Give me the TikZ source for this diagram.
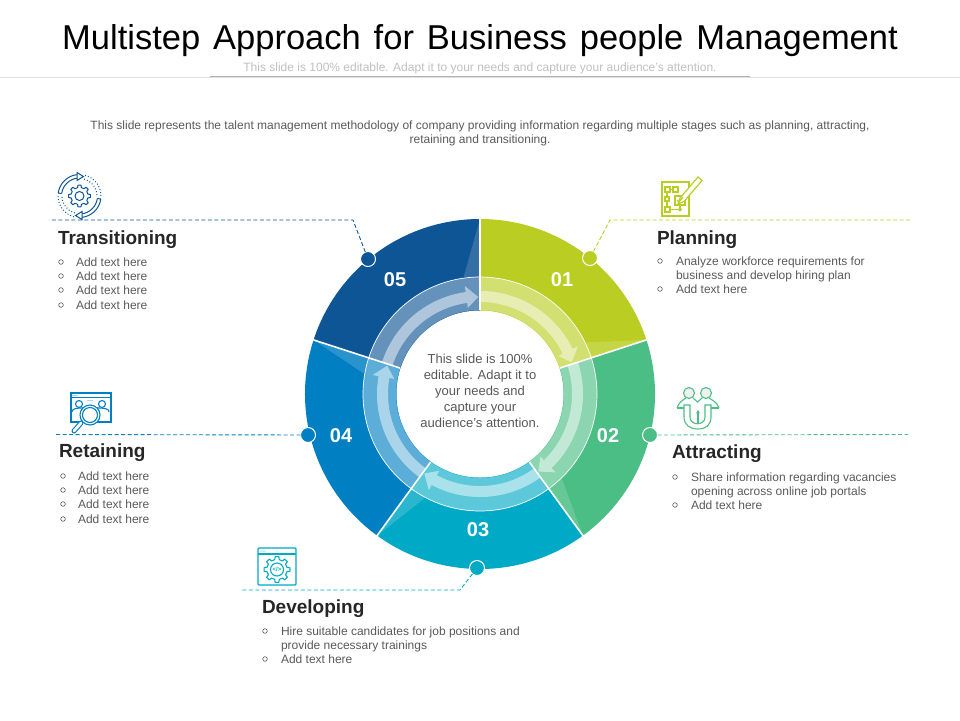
\documentclass[tikz,border=0pt]{standalone}
\usepackage{fontspec}
\setmainfont{Liberation Sans}
\newfontfamily\titlefont[WordSpace=1.35]{Liberation Sans}
\usetikzlibrary{arrows.meta}

\definecolor{segone}{HTML}{B9CD22}
\definecolor{segtwo}{HTML}{4ABE84}
\definecolor{segthree}{HTML}{00A9C5}
\definecolor{segfour}{HTML}{0080C3}
\definecolor{segfive}{HTML}{0E5596}
\definecolor{bodygray}{HTML}{595959}
\definecolor{headgray}{HTML}{262626}

\tikzset{
  every node/.style={inner sep=0pt, outer sep=0pt},
  heading/.style={anchor=base west, font=\fontsize{19}{22}\selectfont\bfseries, text=headgray},
  listline/.style={anchor=base west, font=\fontsize{12}{14}\selectfont, text=bodygray},
  bulletmark/.style={circle, draw=bodygray, line width=0.6pt, minimum size=4.6pt},
  stepnum/.style={font=\fontsize{20}{22}\selectfont\bfseries, text=white},
  stepdot/.style={circle, draw=white, line width=1pt, minimum size=15pt},
  leader/.style={dash pattern=on 4pt off 2.5pt, line width=0.9pt},
  gearpic/.pic={
    \draw [line join=round] (0:#1)
      \foreach \a in {0,45,...,315} {
        -- (\a+8:#1) -- (\a+13:#1*0.78) -- (\a+32:#1*0.78) -- (\a+37:#1) }
      -- cycle;
  }
}

\begin{document}
\begin{tikzpicture}[x=1pt, y=-1pt, line cap=butt]

\useasboundingbox (0,0) rectangle (960,720);

% title block
\node (title) [font=\fontsize{34.5}{36}\selectfont\titlefont, text=black, anchor=base] at (480,49)
  {Multistep Approach for Business people Management};
\node (subtitle) [font=\fontsize{12}{14}\selectfont, text=black!25, anchor=base] at (480,71)
  {This slide is 100\% editable. Adapt it to your needs and capture your audience's attention.};
\coordinate (rule-a) at (0,77);
\coordinate (rule-b) at (960,77);
\coordinate (rule-c) at (210,76);
\coordinate (rule-d) at (750,76);
\draw [black!13, line width=0.8pt] (rule-a) -- (rule-b);
\draw [black!30, line width=0.8pt] (rule-c) -- (rule-d);
\node (intro-1) [listline, anchor=base] at (480,129)
  {This slide represents the talent management methodology of company providing information regarding multiple stages such as planning, attracting,};
\node (intro-2) [listline, anchor=base] at (480,143)
  {retaining and transitioning.};

% wheel
\begin{scope}[shift={(480,394)}, y=1pt]
  \foreach \c [count=\i, evaluate=\i as \sa using 162-72*\i, evaluate=\i as \ea using 90-72*\i]
      in {segone,segtwo,segthree,segfour,segfive} {
    \fill [\c] (\sa:175) arc [start angle=\sa, end angle=\ea, radius=175] -- (\ea:0) -- (0,0) -- cycle;
    % light wedge on the trailing side
    \fill [white, opacity=0.16] (\ea:175) -- (\ea:117) -- (\ea+8:118) -- cycle;
    % inner ring
    \fill [white, opacity=0.36] (\sa:117) arc [start angle=\sa, end angle=\ea, radius=117]
      -- (\ea:84) arc [start angle=\ea, end angle=\sa, radius=84] -- cycle;
    % arrow in the ring
    \fill [white, opacity=0.48] (\sa:103) arc [start angle=\sa, end angle=\ea+8, radius=103]
      -- (\ea+8:109) -- (\ea+1:97) -- (\ea+8:87) -- (\ea+8:92)
      arc [start angle=\ea+8, end angle=\sa, radius=92] -- cycle;
  }
  \draw [white, line width=0.7pt] (0,0) circle [radius=117];
  \foreach \a in {90,18,-54,-126,162}
    \draw [white, line width=1.6pt] (\a:84) -- (\a:176);
  \fill [white] (0,0) circle [radius=83.5];
\end{scope}

\node (centre-text) [font=\fontsize{13}{16}\selectfont, text=bodygray, align=center] at (480,390.5)
  {This slide is 100\%\\editable. Adapt it to\\your needs and\\capture your\\audience's attention.};

\foreach \t/\x/\y [count=\i] in {01/562/280, 02/608/436, 03/478/530, 04/341/436, 05/395/280}
  \node (num-\i) [stepnum] at (\x,\y) {\t};

% connectors
\coordinate (bend-1) at (610,220);
\coordinate (end-1) at (912,220);
\coordinate (end-2) at (908,434.5);
\coordinate (bend-3) at (460,590);
\coordinate (end-3) at (240,590);
\coordinate (end-4) at (54,434.5);
\coordinate (bend-5) at (353,220);
\coordinate (end-5) at (49,220);

\foreach \c/\x/\y [count=\i] in {segone/590/258, segtwo/650/435, segthree/477/568, segfour/308/435, segfive/368/259}
  \node (dot-\i) [stepdot, fill=\c] at (\x,\y) {};

\draw [leader, segone] (dot-1) -- (bend-1) -- (end-1);
\draw [leader, segtwo] (dot-2) -- (end-2);
\draw [leader, segthree] (dot-3) -- (bend-3) -- (end-3);
\draw [leader, segfour] (dot-4) -- (end-4);
\draw [leader, segfive] (dot-5) -- (bend-5) -- (end-5);

% headings
\node (head-1) [heading] at (657,244) {Planning};
\node (head-2) [heading] at (672,458) {Attracting};
\node (head-3) [heading] at (262,613) {Developing};
\node (head-4) [heading] at (59,457) {Retaining};
\node (head-5) [heading] at (58,244) {Transitioning};

% lists
\foreach \y [count=\k] in {265,279,293} {
  \node (plan-\k) [listline] at (676,\y) {\ifcase\k\or Analyze workforce requirements for\or business and develop hiring plan\or Add text here\fi};
}
\foreach \y [count=\k] in {481,495,509} {
  \node (attr-\k) [listline] at (691,\y) {\ifcase\k\or Share information regarding vacancies\or opening across online job portals\or Add text here\fi};
}
\foreach \y [count=\k] in {635,649,663} {
  \node (dev-\k) [listline] at (281,\y) {\ifcase\k\or Hire suitable candidates for job positions and\or provide necessary trainings\or Add text here\fi};
}
\foreach \y [count=\k] in {480,494,508,523}
  \node (ret-\k) [listline] at (78,\y) {Add text here};
\foreach \y [count=\k] in {266,280,294,309}
  \node (trans-\k) [listline] at (76,\y) {Add text here};

% bullets
\foreach \x/\y [count=\k] in {660/261, 660/289, 675/477, 675/505, 265/631, 265/659,
    63/476, 63/490, 63/504, 63/519, 61/262, 61/276, 61/290, 61/305}
  \node (bullet-\k) [bulletmark] at (\x,\y) {};

% planning icon
\begin{scope}[segone, line width=1.2pt]
  \draw (662,182) rectangle (689,216);
  \draw (665,187) rectangle (670,192);
  \draw (673,187) rectangle (678,192);
  \draw (665,197) rectangle (669,201);
  \draw (665,207) rectangle (670,212);
  \draw (670,189.5) -- (673,189.5);
  \draw (667,192) -- (667,197);
  \draw (667,201) -- (667,207);
  \draw (670,209.5) -- (680,209.5);
  \draw (675,196) rectangle (685,205);
  \draw (680,209.5) circle [radius=1.2];
  \draw (680,205) -- (680,208);
  \draw [fill=white] (680,198) -- (698,177) -- (702,180.5) -- (684,201.5) -- (678,204) -- cycle;
  \draw (677,200) -- (679,202) -- (683,197);
\end{scope}

% attracting icon
\begin{scope}[segtwo, line width=1.1pt]
  \draw [fill=black!6] (689,393) circle [radius=5.5];
  \draw [fill=black!6] (706,393) circle [radius=5.5];
  \draw (677,408) .. controls (679,402) and (683,400) .. (686,398);
  \draw (719,408) .. controls (717,402) and (712,400) .. (709,398);
  \draw (693,398) -- (697.5,402) -- (702,398);
  \draw (677,408) -- (684,408);
  \draw (711,408) -- (719,408);
  \draw (684,405) -- (684,417) .. controls (684,425) and (690,429) .. (698,429)
    .. controls (706,429) and (711,425) .. (711,417) -- (711,405) -- (705,405) -- (705,417)
    .. controls (705,426) and (690,426) .. (690,417) -- (690,405) -- cycle;
  \draw [-{Stealth[length=3.5pt,width=4pt]}] (698,424) -- (698,410);
\end{scope}

% developing icon
\begin{scope}[segthree, line width=1.1pt]
  \draw [rounded corners=1pt] (258,548) rectangle (296,585);
  \draw (258,554) -- (296,554);
  \foreach \x in {261,263,265}
    \fill (\x,551) circle [radius=0.5];
  \pic at (277,569.5) {gearpic=13};
  \draw (277,569.5) circle [radius=6.5];
  \node (dev-code) [font=\fontsize{6}{6}\selectfont\bfseries] at (277,569.5) {</>};
\end{scope}

% retaining icon
\begin{scope}[segfour, line width=1.1pt]
  \draw (71,393) rectangle (111,422);
  \draw (71,397.5) -- (111,397.5);
  \foreach \x in {73,75,77}
    \fill (\x,395.3) circle [radius=0.5];
  \foreach \x in {88,90,92}
    \fill (\x,400.5) circle [radius=0.5];
  \draw (79,404) circle [radius=3.5];
  \draw (102,404) circle [radius=3.5];
  \draw (72,412) .. controls (72,409) and (75,408) .. (83,408);
  \draw (109,412) .. controls (109,409) and (106,408) .. (97,408);
  \draw [fill=white] (90,415) circle [radius=10];
  \draw (90,415) circle [radius=7.5];
  \draw [line width=5pt, line cap=round] (74,431) -- (81,423);
  \draw [white, line width=2.8pt, line cap=round] (74,431) -- (81,423);
\end{scope}

% transitioning icon
\begin{scope}[segfive, line width=1pt, shift={(79.5,196)}, y=1pt]
  \pic {gearpic=11};
  \draw (0,0) circle [radius=4.5];
  \draw (172:21.5) arc [start angle=172, end angle=96, radius=21.5];
  \draw (172:18) arc [start angle=172, end angle=96, radius=18];
  \draw (172:21.5) -- (172:18);
  \draw (-8:21.5) arc [start angle=-8, end angle=-84, radius=21.5];
  \draw (-8:18) arc [start angle=-8, end angle=-84, radius=18];
  \draw (-8:21.5) -- (-8:18);
  \draw [fill=white] (-2.5,23.5) -- (4,19.5) -- (-2.5,15.5) -- cycle;
  \draw [fill=white] (2.5,-23.5) -- (-4,-19.5) -- (2.5,-15.5) -- cycle;
  \draw [dotted] (75:21.5) arc [start angle=75, end angle=0, radius=21.5];
  \draw [dotted] (75:17.5) arc [start angle=75, end angle=0, radius=17.5];
  \draw [dotted] (-105:21.5) arc [start angle=-105, end angle=-180, radius=21.5];
  \draw [dotted] (-105:17.5) arc [start angle=-105, end angle=-180, radius=17.5];
\end{scope}

\end{tikzpicture}
\end{document}
